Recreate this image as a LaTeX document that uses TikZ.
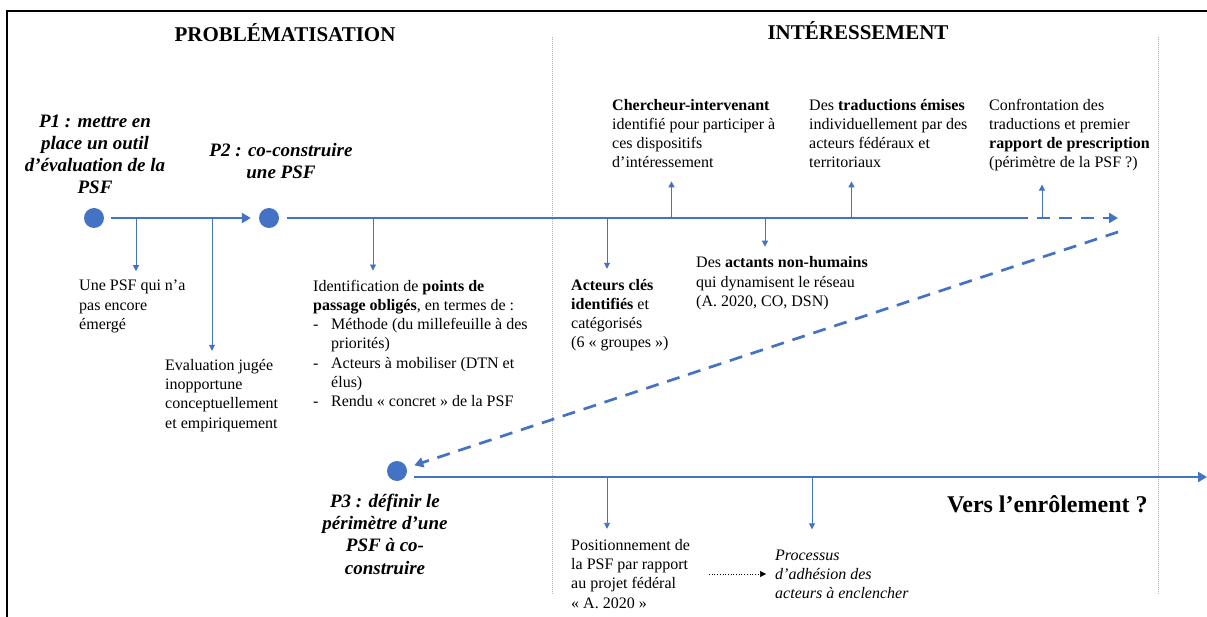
\documentclass[tikz,border=0pt]{standalone}
\usepackage{fontspec}
\setmainfont{Liberation Serif}
\usepackage{tikz}
\usetikzlibrary{arrows.meta}
\usepackage{xcolor}

\definecolor{lineblue}{RGB}{68,114,196}
\definecolor{sepblue}{RGB}{155,180,225}

\tikzset{
    phase/.style={font=\fontsize{21}{24}\selectfont\bfseries, inner sep=0pt, anchor=base},
    milestone/.style={circle, fill=lineblue, minimum size=20pt, inner sep=0pt},
    plabel/.style={font=\fontsize{19}{22.3}\selectfont\bfseries\itshape, align=center, inner sep=0pt, anchor=base},
    note/.style={font=\fontsize{16}{19.3}\selectfont, align=left, inner sep=0pt, anchor=base west},
    timeline/.style={lineblue, line width=2.7pt},
    bigtip/.style={-{Triangle[length=9pt, width=10pt]}},
    smalltip/.style={lineblue, line width=0.9pt, -{Triangle[length=6pt, width=6pt]}},
    separator/.style={sepblue, line width=0.9pt, dash pattern=on 1pt off 1pt},
}

\begin{document}
\begin{tikzpicture}[x=1pt, y=-1pt]

    % ==========================================
    % FRAME & PHASE SEPARATORS
    % ==========================================

    \useasboundingbox (0,0) rectangle (1207,617);
    \fill[white] (0,0) rectangle (1207,617);

    \coordinate (F_bottom) at (7,617);
    \coordinate (F_corner) at (7,11);
    \coordinate (F_right)  at (1207,11);
    \draw[line width=2pt] (F_bottom) -- (F_corner) -- (F_right);

    \coordinate (S1_top) at (552,37);
    \coordinate (S1_bot) at (552,595);
    \coordinate (S2_top) at (1158,37);
    \coordinate (S2_bot) at (1158,595);
    \draw[separator] (S1_top) -- (S1_bot);
    \draw[separator] (S2_top) -- (S2_bot);

    \node[phase] (probl) at (285,42) {PROBLÉMATISATION};
    \node[phase] (inter) at (858,40) {INTÉRESSEMENT};

    % ==========================================
    % MILESTONES P1, P2, P3
    % ==========================================

    % (multi-line texts sit on the baseline of their last line)
    \def\yTop{218}
    \def\yLow{477}

    \node[milestone] (P1) at (94,\yTop) {};
    \node[milestone] (P2) at (269,\yTop) {};
    \node[milestone] (P3) at (397,471) {};

    \node[plabel] (P1_txt) at (95,194) {P1 : mettre en\\place un outil\\d’évaluation de la\\PSF};
    \node[plabel] (P2_txt) at (281,179) {P2 : co-construire\\une PSF};
    \node[plabel] (P3_txt) at (385,574) {P3 : définir le\\périmètre d’une\\PSF à co-\\construire};

    % ==========================================
    % TIMELINES
    % ==========================================

    \coordinate (L_solid) at (1015,\yTop);
    \coordinate (L_end)   at (1118,\yTop);
    \coordinate (D_start) at (1118,232);
    \coordinate (L3_end)  at (1207,\yLow);
    \coordinate (L3_start) at (414,\yLow);

    \draw[timeline, bigtip, shorten <=7pt, shorten >=8pt] (P1) -- (P2);
    \draw[timeline, shorten <=8pt] (P2) -- (L_solid);
    \draw[timeline, bigtip, dash pattern=on 13pt off 9pt] (L_solid) -- (L_end);
    \draw[timeline, bigtip, dash pattern=on 13pt off 9pt, shorten >=8pt] (D_start) -- (P3);
    \draw[timeline, bigtip] (L3_start) -- (L3_end);

    % ==========================================
    % NOTES AROUND THE UPPER LINE
    % ==========================================

    \node[note] (une) at (79,329.6) {Une PSF qui n’a\\pas encore\\émergé};
    \node[note] (eval) at (165,428) {Evaluation jugée\\inopportune\\conceptuellement\\et empiriquement};
    \node[note] (ppo) at (313,406.8) {Identification de \textbf{points de}\\
        \textbf{passage obligés}, en termes de :\\
        \makebox[18pt][l]{-}Méthode (du millefeuille à des\\
        \hspace*{18pt}priorités)\\
        \makebox[18pt][l]{-}Acteurs à mobiliser (DTN et\\
        \hspace*{18pt}élus)\\
        \makebox[18pt][l]{-}Rendu « concret » de la PSF};
    \node[note] (cles) at (571,348) {\textbf{Acteurs clés}\\\textbf{identifiés} et\\catégorisés\\(6 « groupes »)};
    \node[note] (actants) at (696,306.6) {Des \textbf{actants non-humains}\\qui dynamisent le réseau\\(A. 2020, CO, DSN)};
    \node[note] (cherch) at (612,168) {\textbf{Chercheur-intervenant}\\identifié pour participer à\\ces dispositifs\\d’intéressement};
    \node[note] (trad) at (809,168) {Des \textbf{traductions émises}\\individuellement par des\\acteurs fédéraux et\\territoriaux};
    \node[note] (confr) at (989,168) {Confrontation des\\traductions et premier\\\textbf{rapport de prescription}\\(périmètre de la PSF ?)};

    \coordinate (a1) at (136,\yTop);
    \coordinate (a2) at (212,\yTop);
    \coordinate (a3) at (373,\yTop);
    \coordinate (a4) at (607,\yTop);
    \coordinate (a5) at (765,\yTop);
    \coordinate (u1) at (671.5,\yTop);
    \coordinate (u2) at (851.5,\yTop);
    \coordinate (u3) at (1042,\yTop);

    \draw[smalltip, shorten >=9pt] (a1) -- (a1 |- une.north);
    \draw[smalltip, shorten >=8pt] (a2) -- (a2 |- eval.north);
    \draw[smalltip, shorten >=9pt] (a3) -- (a3 |- ppo.north);
    \draw[smalltip, shorten >=10pt] (a4) -- (a4 |- cles.north);
    \draw[smalltip, shorten >=10pt] (a5) -- (a5 |- actants.north);
    \draw[smalltip, shorten >=13pt] (u1) -- (u1 |- cherch.south);
    \draw[smalltip, shorten >=13pt] (u2) -- (u2 |- trad.south);
    \draw[smalltip, shorten >=13pt] (u3) -- (u3 |- confr.south);

    % ==========================================
    % NOTES AROUND THE LOWER LINE
    % ==========================================

    \node[note] (posit) at (571,608) {Positionnement de\\la PSF par rapport\\au projet fédéral\\« A. 2020 »};
    \node[note, font=\fontsize{16}{19.3}\selectfont\itshape] (adhes) at (775,598.6) {Processus\\d’adhésion des\\acteurs à enclencher};
    \node[font=\fontsize{24}{28}\selectfont\bfseries, inner sep=0pt, anchor=base west] (enrol) at (947,512) {Vers l’enrôlement ?};

    \coordinate (b1) at (607,\yLow);
    \coordinate (b2) at (812,\yLow);
    \draw[smalltip, shorten >=10pt] (b1) -- (b1 |- posit.north);
    \draw[smalltip, shorten >=20pt] (b2) -- (b2 |- adhes.north);

    \coordinate (dots_start) at (709,574);
    \draw[line width=0.7pt, dotted, -{Triangle[length=6pt, width=6pt]}, shorten >=9pt] (dots_start) -- (dots_start -| adhes.west);

\end{tikzpicture}
\end{document}
